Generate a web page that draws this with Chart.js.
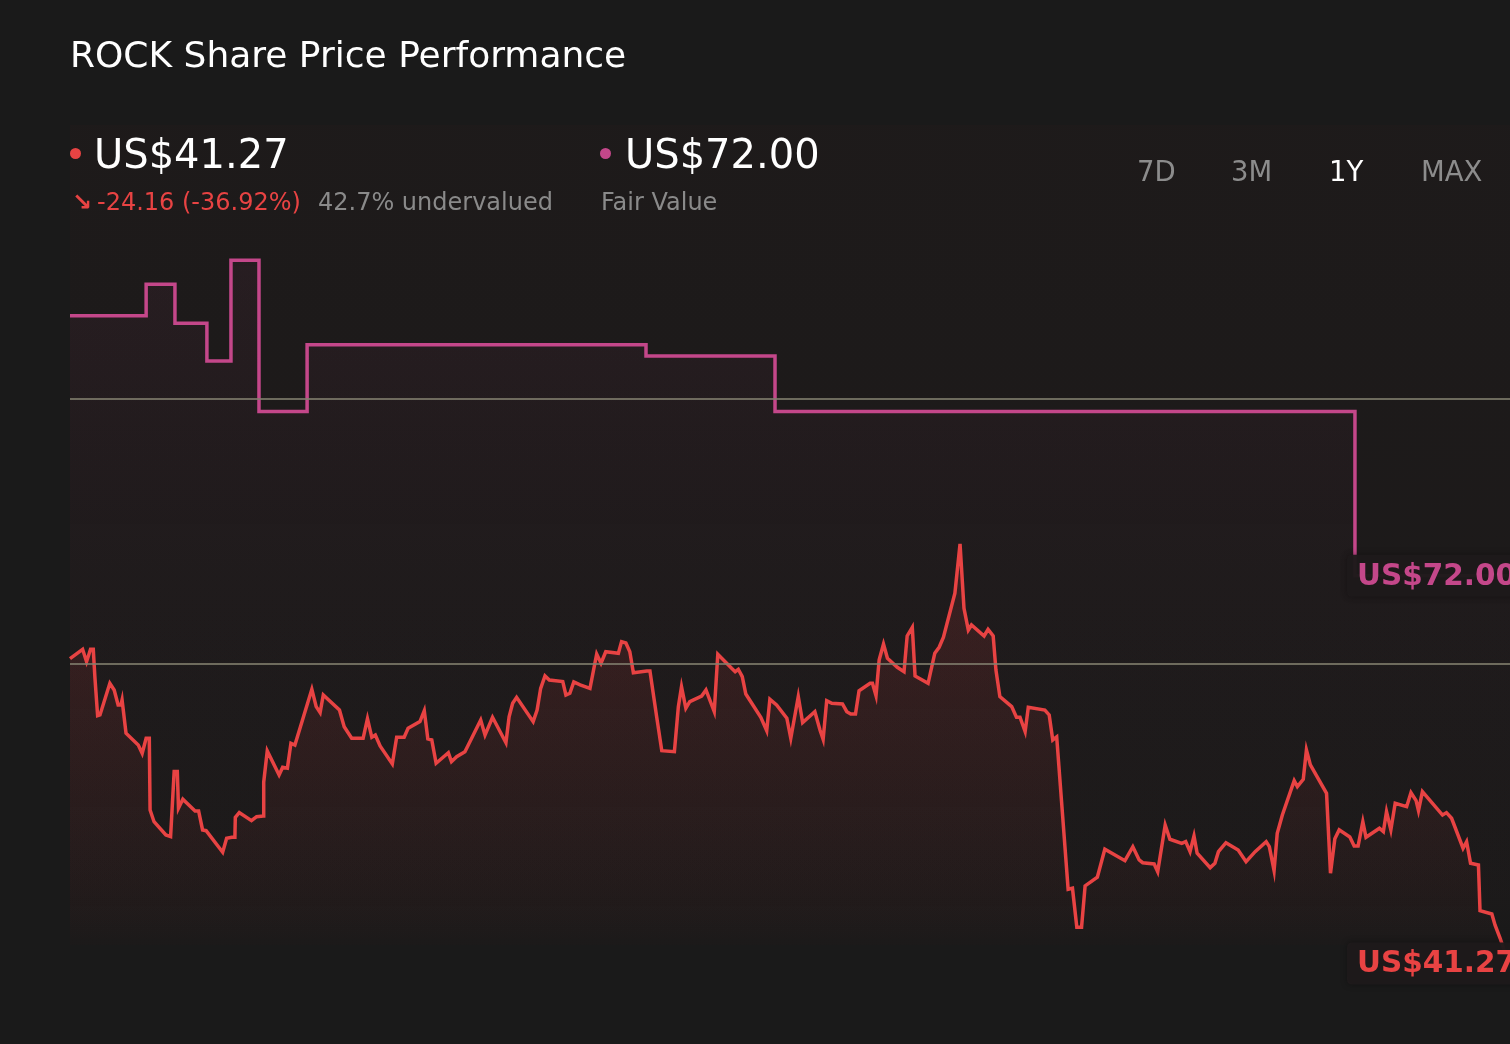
<!DOCTYPE html>
<html>
<head>
<meta charset="utf-8">
<script src="https://cdn.jsdelivr.net/npm/chart.js@4"></script>
<style>
  html, body { margin:0; padding:0; background:#1a1a1a; }
  #wrap { position:relative; width:1510px; height:1044px; overflow:hidden; background:#1a1a1a; font-family:"DejaVu Sans", sans-serif; }
  #c { position:absolute; left:0; top:0; }
  .t { position:absolute; white-space:nowrap; line-height:1; }
  .dot { position:absolute; width:11px; height:11px; border-radius:50%; }
</style>
</head>
<body>
<div id="wrap">
  <canvas id="c" width="1510" height="1044"></canvas>
  <div class="t" id="title" style="left:70px; top:37px; font-size:36px; color:#ffffff;"></div>
  <div class="dot" style="left:70px; top:148px; background:#e84343;"></div>
  <div class="t" id="price" style="left:94px; top:134px; font-size:40px; color:#ffffff;"></div>
  <div class="t" id="arrow" style="left:72px; top:190px; font-size:24px; font-weight:bold; color:#e84343;">↘</div>
  <div class="t" id="change" style="left:97px; top:190px; font-size:24px; color:#e84343;"></div>
  <div class="t" id="under" style="left:318px; top:190px; font-size:24px; color:#8a8a8a;"></div>
  <div class="dot" style="left:600px; top:148px; background:#c4478a;"></div>
  <div class="t" id="fair" style="left:625px; top:134px; font-size:40px; color:#ffffff;"></div>
  <div class="t" id="fairLbl" style="left:601px; top:190px; font-size:24px; color:#8a8a8a;"></div>
  <div id="buttons"></div>
</div>
<script>
// ---- data ----
const titleText = "ROCK Share Price Performance";
const currentPrice = 41.27;
const fairValue = 72.00;
const changeText = "-24.16 (-36.92%)";
const undervaluedText = "42.7% undervalued";
const fairLabel = "Fair Value";
const rangeButtons = ["7D", "3M", "1Y", "MAX"];
const activeRange = "1Y";
const gridValues = [65, 86];

const priceDays = [0,3.2,4.2,5.2,5.9,6.3,7.0,7.6,10.1,11.2,
12.2,12.9,13.2,14.2,17.3,18.3,19.3,20.1,20.3,21.3,
24.3,25.5,26.4,27.2,27.5,28.6,31.7,32.6,33.6,34.5,
38.7,39.7,41.0,41.8,41.9,42.9,46.0,47.3,49.0,49.1,
50.0,53.0,53.9,55.1,56.0,57.0,61.3,62.4,63.4,64.2,
68.3,69.5,71.4,74.3,75.4,76.5,77.4,78.6,81.7,82.8,
84.7,85.7,88.7,89.8,90.7,91.7,92.8,95.9,96.7,98.0,
100.1,104.1,105.2,107.1,110.5,111.3,112.2,113.2,117.4,118.4,
119.3,120.4,121.5,124.9,125.7,126.7,127.7,129.3,131.8,133.5,
134.6,135.8,139.0,139.8,140.9,141.9,142.8,146.2,147.0,148.7,
150.0,153.2,154.2,155.0,156.1,157.1,160.1,161.2,163.3,164.2,
167.7,168.6,169.4,170.4,171.3,175.1,176.6,177.4,179.1,181.7,
182.7,184.6,185.7,188.8,190.1,190.9,191.8,193.1,195.8,196.9,
197.9,199.1,200.0,202.8,203.4,204.3,205.1,206.2,207.2,209.7,
211.4,212.2,213.5,214.2,217.5,219.2,220.3,221.4,224.3,225.6,
226.6,227.7,228.5,231.7,232.7,234.0,234.7,235.7,238.7,239.9,
240.8,242.1,242.9,247.1,248.2,249.1,250.1,253.0,254.1,255.2,
256.4,257.3,260.4,262.3,267.4,269.4,271.0,271.9,274.8,275.7,
277.6,278.8,281.8,282.8,283.9,284.9,285.7,289.0,290.2,291.1,
293.0,296.1,298.1,300.4,303.2,304.0,305.2,306.0,307.3,310.3,
311.1,312.6,313.4,314.4,318.5,319.5,320.6,321.7,324.4,325.5,
326.5,327.7,328.5,331.9,332.9,333.7,334.8,335.9,338.8,339.9,
341.2,341.8,342.8,347.9,348.9,350.2,353.1,354.0,355.0,357.0,
357.4,360.4,361.2,362.5,363.5,365];

const priceValues = [65.43,66.16,65.18,66.16,66.16,63.99,60.90,60.96,63.47,62.94,
61.75,61.75,62.15,59.51,58.58,57.92,59.11,59.11,53.43,52.50,
51.45,51.32,56.47,56.47,53.57,54.28,53.35,53.35,51.85,51.79,
50.08,51.19,51.27,51.27,52.85,53.22,52.58,52.90,52.96,55.63,
58.11,56.20,56.81,56.74,58.72,58.58,63.00,61.62,61.14,62.54,
61.35,60.03,59.11,59.11,60.67,59.19,59.37,58.50,57.08,59.19,
59.19,59.90,60.43,61.30,59.06,58.98,57.13,57.97,57.26,57.65,
58.05,60.56,59.37,60.78,58.76,60.82,61.89,62.36,60.43,61.35,
63.07,64.05,63.73,63.60,62.54,62.68,63.57,63.34,63.07,65.79,
65.06,65.97,65.85,66.77,66.66,65.97,64.31,64.45,64.45,60.82,
58.13,58.05,61.62,63.20,61.49,62.01,62.46,62.94,61.22,65.77,
64.66,64.39,64.58,63.99,62.62,60.78,59.71,62.20,61.75,60.70,
59.11,62.42,60.35,61.22,59.77,59.03,62.09,61.89,61.83,61.22,
61.04,61.04,62.88,63.47,63.47,62.49,65.32,66.58,65.45,64.74,
64.39,67.22,67.91,64.05,63.47,65.85,66.32,67.12,70.60,74.51,
69.41,67.69,68.09,67.22,67.75,67.22,64.52,62.41,61.62,60.78,
60.78,59.64,61.57,61.35,60.96,58.98,59.22,47.15,47.23,44.14,
44.14,47.41,48.10,50.32,49.41,50.52,49.47,49.25,49.15,48.54,
52.24,51.11,50.79,50.92,50.13,51.37,50.00,48.86,49.21,50.13,
50.84,50.26,49.33,50.13,50.92,50.53,48.62,51.58,53.03,55.75,
55.28,55.86,58.19,57.00,54.75,48.42,51.15,51.85,51.29,50.58,
50.58,52.50,51.27,51.98,51.71,53.30,51.85,53.96,53.69,54.80,
54.17,53.38,54.88,53.03,53.22,52.77,50.40,50.92,49.21,49.07,
45.45,45.19,44.32,43.26,42.34,41.27];

const fairDays   = [0, 19.3, 26.6, 34.7, 40.8, 47.9, 60.1, 146.0, 178.7, 325.7, 365];
const fairValues = [92.6, 95.1, 92.0, 89.0, 97.0, 85.0, 90.3, 89.4, 85.0, 72.0, 72.0];

const dayMin = 0, dayMax = 365;
const yMin = 42.73, yMax = 107.71;

// ---- colours ----
const RED = "#e84343";
const PINK = "#c4478a";

// ---- header text ----
document.getElementById("title").textContent = titleText;
document.getElementById("price").textContent = "US$" + currentPrice.toFixed(2);
document.getElementById("change").textContent = changeText;
document.getElementById("under").textContent = undervaluedText;
document.getElementById("fair").textContent = "US$" + fairValue.toFixed(2);
document.getElementById("fairLbl").textContent = fairLabel;
const btnLeft = [1137, 1231, 1329, 1421];
const bc = document.getElementById("buttons");
rangeButtons.forEach((b, i) => {
  const d = document.createElement("div");
  d.className = "t";
  d.textContent = b;
  d.style.left = btnLeft[i] + "px";
  d.style.top = "158px";
  d.style.fontSize = "27.5px";
  d.style.color = b === activeRange ? "#ffffff" : "#8c8c8c";
  bc.appendChild(d);
});

const pricePts = priceDays.map((d, i) => ({ x: d, y: priceValues[i] }));
const fairPts = fairDays.map((d, i) => ({ x: d, y: fairValues[i] }));

const bgPlugin = {
  id: "bgTint",
  beforeDatasetsDraw(chart) {
    const { ctx, chartArea: a, scales } = chart;
    ctx.save();
    const g = ctx.createLinearGradient(0, a.top, 0, a.bottom);
    g.addColorStop(0, "rgba(232,64,64,0.02)");
    g.addColorStop(0.95, "rgba(232,64,64,0.012)");
    g.addColorStop(1, "rgba(232,64,64,0.0)");
    ctx.fillStyle = g;
    ctx.fillRect(a.left, a.top, a.right - a.left, a.bottom - a.top);
    ctx.restore();
  },
  afterDatasetsDraw(chart) {
    const { ctx, chartArea: a, scales } = chart;
    ctx.save();
    ctx.strokeStyle = "rgba(130,128,110,0.8)";
    ctx.lineWidth = 2;
    gridValues.forEach(v => {
      const y = Math.round(scales.y.getPixelForValue(v));
      ctx.beginPath();
      ctx.moveTo(a.left, y);
      ctx.lineTo(chart.width, y);
      ctx.stroke();
    });
    ctx.restore();
  }
};

function roundRect(ctx, x, y, w, h, r) {
  ctx.beginPath();
  ctx.moveTo(x + r, y);
  ctx.lineTo(x + w - r, y);
  ctx.quadraticCurveTo(x + w, y, x + w, y + r);
  ctx.lineTo(x + w, y + h - r);
  ctx.quadraticCurveTo(x + w, y + h, x + w - r, y + h);
  ctx.lineTo(x + r, y + h);
  ctx.quadraticCurveTo(x, y + h, x, y + h - r);
  ctx.lineTo(x, y + r);
  ctx.quadraticCurveTo(x, y, x + r, y);
  ctx.closePath();
}

const endLabelPlugin = {
  id: "endLabels",
  afterDraw(chart) {
    const { ctx, scales } = chart;
    const items = [
      { v: fairValues[fairValues.length - 1], c: PINK },
      { v: priceValues[priceValues.length - 1], c: RED }
    ];
    ctx.save();
    items.forEach(it => {
      const py = scales.y.getPixelForValue(it.v);
      const bx = 1347, bw = 190, bh = 42;
      ctx.shadowColor = "rgba(0,0,0,0.35)";
      ctx.shadowBlur = 6;
      roundRect(ctx, bx, py - bh / 2, bw, bh, 5);
      ctx.fillStyle = "rgba(30,26,27,0.96)";
      ctx.fill();
      ctx.shadowBlur = 0;
      ctx.fillStyle = it.c;
      ctx.font = "bold 29.5px 'DejaVu Sans'";
      ctx.textBaseline = "alphabetic";
      ctx.fillText("US$" + it.v.toFixed(2), 1357, py + 9);
    });
    ctx.restore();
  }
};

new Chart(document.getElementById("c"), {
  type: "line",
  data: {
    datasets: [
      {
        label: "Share price",
        data: pricePts,
        borderColor: RED,
        borderWidth: 3.5,
        borderJoinStyle: "miter",
        pointRadius: 0,
        tension: 0,
        clip: false,
        fill: "start",
        backgroundColor(context) {
          const { ctx, chartArea } = context.chart;
          if (!chartArea) return "rgba(232,64,64,0.1)";
          const g = ctx.createLinearGradient(0, 540, 0, chartArea.bottom);
          g.addColorStop(0, "rgba(232,64,64,0.15)");
          g.addColorStop(0.6, "rgba(232,64,64,0.07)");
          g.addColorStop(1, "rgba(232,64,64,0.01)");
          return g;
        },
        order: 1
      },
      {
        label: "Fair value",
        data: fairPts,
        borderColor: PINK,
        borderWidth: 3.5,
        borderJoinStyle: "miter",
        pointRadius: 0,
        stepped: "before",
        fill: "start",
        backgroundColor(context) {
          const { ctx, chartArea } = context.chart;
          if (!chartArea) return "rgba(196,71,138,0.06)";
          const g = ctx.createLinearGradient(0, 260, 0, chartArea.bottom);
          g.addColorStop(0, "rgba(196,71,138,0.06)");
          g.addColorStop(0.45, "rgba(196,71,138,0.015)");
          g.addColorStop(1, "rgba(196,71,138,0.0)");
          return g;
        },
        order: 2
      }
    ]
  },
  options: {
    responsive: false,
    animation: false,
    devicePixelRatio: 1,
    layout: { padding: { left: 70, right: 0, top: 125, bottom: 99 } },
    plugins: { legend: { display: false }, tooltip: { enabled: false } },
    scales: {
      x: { type: "linear", min: dayMin, max: dayMax, display: false },
      y: { type: "linear", min: yMin, max: yMax, display: false }
    }
  },
  plugins: [bgPlugin, endLabelPlugin]
});
</script>
</body>
</html>
